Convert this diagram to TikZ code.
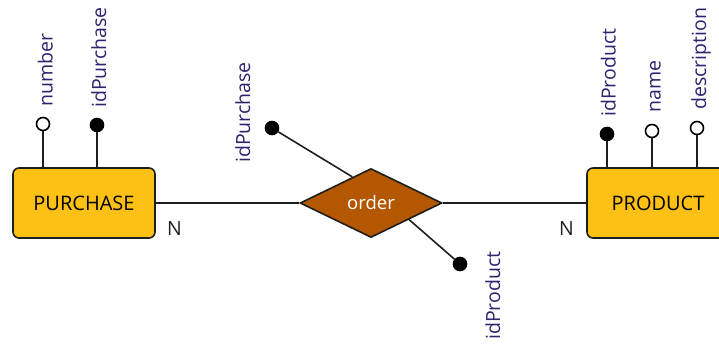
\documentclass[tikz,border=0pt]{standalone}
\usepackage{fontspec}
\setmainfont{Open Sans}
\usetikzlibrary{shapes.geometric,calc}
\definecolor{entfill}{RGB}{253,192,20}
\definecolor{relfill}{RGB}{179,88,0}
\definecolor{attrtext}{RGB}{45,35,110}
\definecolor{linecol}{RGB}{30,30,30}
\tikzset{
  entity/.style={draw=linecol, line width=1.6pt, fill=entfill, rounded corners=6pt,
    minimum width=142pt, minimum height=70pt, inner sep=0pt, text=black,
    font=\fontsize{20}{24}\selectfont},
  relation/.style={diamond, draw=linecol, line width=1.6pt, fill=relfill, text=white,
    minimum width=142pt, minimum height=69pt, inner sep=0pt,
    font=\fontsize{18.5}{22}\selectfont},
  attr/.style={circle, draw=black, line width=1.6pt, fill=white, minimum size=13pt, inner sep=0pt},
  keyattr/.style={circle, draw=black, line width=1.6pt, fill=black, minimum size=13pt, inner sep=0pt},
  attrlabel/.style={rotate=90, anchor=base west, inner sep=0pt, text=attrtext,
    font=\fontsize{19.5}{23}\selectfont},
  card/.style={anchor=base, inner sep=0pt, text=linecol, font=\fontsize{19.5}{23}\selectfont},
  conn/.style={draw=linecol, line width=1.6pt}
}
\begin{document}
\begin{tikzpicture}[x=1pt,y=-1pt]
\useasboundingbox (0,0) rectangle (719,343);
\clip (0,0) rectangle (719,343);
% entities and relation
\node[entity] (purchase) at (84,203) {PURCHASE};
\node[entity] (product) at (658,203) {PRODUCT};
\node[relation] (order) at (371,203) {order};
% main connectors
\draw[conn] (purchase.east) -- (order.west);
\draw[conn] (order.east) -- (product.west);
\node[card] (n1) at (174.5,235.5) {N};
\node[card] (n2) at (566.5,235.5) {N};
% PURCHASE attributes
\node[attr] (anum) at (43,124) {};
\node[keyattr] (aidpur) at (97,125) {};
\draw[conn] (anum.south) -- (anum.south |- purchase.north);
\draw[conn] (aidpur.south) -- (aidpur.south |- purchase.north);
\node[attrlabel] (lnum) at (52.5,107) {number};
\node[attrlabel] (lidpur) at (106,108) {idPurchase};
% PRODUCT attributes
\node[keyattr] (aidprod) at (607,134) {};
\node[attr] (aname) at (652,131) {};
\node[attr] (adesc) at (697,128) {};
\draw[conn] (aidprod.south) -- (aidprod.south |- product.north);
\draw[conn] (aname.south) -- (aname.south |- product.north);
\draw[conn] (adesc.south) -- (adesc.south |- product.north);
\node[attrlabel] (lidprod) at (615.5,117) {idProduct};
\node[attrlabel] (lname) at (660.5,113) {name};
\node[attrlabel] (ldesc) at (706,110) {description};
% relation attributes
\coordinate (o1) at ($(order.west)!0.74!(order.north)$);
\coordinate (o2) at ($(order.south)!0.53!(order.east)$);
\node[keyattr] (ridpur) at (272,128) {};
\node[keyattr] (ridprod) at (460,264) {};
\draw[conn] (ridpur) -- (o1);
\draw[conn] (o2) -- (ridprod);
\node[attrlabel] (lridpur) at (250,163) {idPurchase};
\node[attrlabel] (lridprod) at (500,340) {idProduct};
\end{tikzpicture}
\end{document}
